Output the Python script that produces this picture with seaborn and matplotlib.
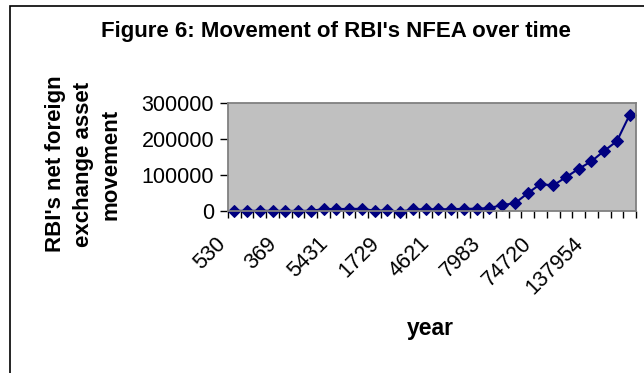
import numpy as np
import pandas as pd
import matplotlib
matplotlib.use("Agg")
import matplotlib.pyplot as plt
import matplotlib.transforms as mtransforms
from matplotlib.patches import Rectangle
import seaborn as sns

# ================= 1. Data =================
nfea = [530, 420, 610, 480, 369, 250, 700, 5200,
        5431, 5800, 6100, 900, 1729, -1500, 4200, 4800,
        4621, 5200, 5900, 6500, 7983, 16700, 21400, 49200,
        74720, 71000, 93800, 117000, 137954, 167000, 194000, 267000]
# the category labels on the x axis are the values themselves (every 4th shown)
x_tick_labels = [str(v) for v in nfea]
y_ticks = [0, 100000, 200000, 300000]

df = pd.DataFrame({"pos": np.arange(len(nfea)), "nfea": nfea})

# ================= 2. Styling =================
sns.set_style("white")
plt.rcParams['font.family'] = ['Liberation Sans', 'DejaVu Sans']
plt.rcParams['text.color'] = 'black'
plt.rcParams['xtick.color'] = 'black'
plt.rcParams['ytick.color'] = 'black'

NAVY = '#000080'
fig = plt.figure(figsize=(6.44, 3.73), dpi=100)
ax = fig.add_axes([0.354, 0.4343, 0.6336, 0.2896])
ax.set_facecolor('#C0C0C0')

# ================= 3. Plot =================
sns.lineplot(data=df, x='pos', y='nfea', ax=ax, color=NAVY, linewidth=1.5,
             marker='D', markersize=6.5, markeredgecolor=NAVY, clip_on=False)

n = len(nfea)
ax.set_xlim(-0.5, n - 0.5)
ax.set_ylim(0, 300000)

# tick marks between categories, labels at category centres
ax.set_xticks(np.arange(n + 1) - 0.5)
ax.set_xticklabels([])
ax.tick_params(axis='x', which='major', direction='out', length=5, width=1, color='black', bottom=True)
ax.set_xticks(np.arange(0, n, 4), [x_tick_labels[i] for i in range(0, n, 4)], minor=True)
ax.tick_params(axis='x', which='minor', length=0, pad=16, labelsize=15.5)
for lab in ax.get_xticklabels(minor=True):
    lab.set_rotation(45)
    lab.set_ha('right')
    lab.set_va('top')
    lab.set_rotation_mode('anchor')
offset = mtransforms.ScaledTranslation(-0.19, 0, fig.dpi_scale_trans)
for lab in ax.xaxis.get_minorticklabels():
    lab.set_transform(lab.get_transform() + offset)

ax.set_yticks(y_ticks, [str(v) for v in y_ticks])
ax.tick_params(axis='y', direction='out', length=6, width=1, color='black', left=True,
               labelsize=15.5, pad=4)

for sp in ax.spines.values():
    sp.set_color('#808080')
    sp.set_linewidth(1.3)

ax.set_xlabel('')
ax.set_ylabel('')

# ================= 4. Text =================
fig.text(0.522, 0.915, "Figure 6: Movement of RBI's NFEA over time",
         ha='center', va='center', fontsize=16, fontweight='bold')
fig.text(0.129, 0.56, "RBI's net foreign\nexchange asset\nmovement",
         ha='center', va='center', rotation=90, fontsize=16,
         fontweight='bold', linespacing=1.42)
fig.text(0.668, 0.118, "year", ha='center', va='center', fontsize=16.5, fontweight='bold')

# outer chart border
fig.patches.append(Rectangle((10 / 644, -0.1), 1.2, 1 - 6 / 373 + 0.1,
                             transform=fig.transFigure, fill=False,
                             edgecolor='black', linewidth=1.2))

fig.savefig('out.png', dpi=100)
